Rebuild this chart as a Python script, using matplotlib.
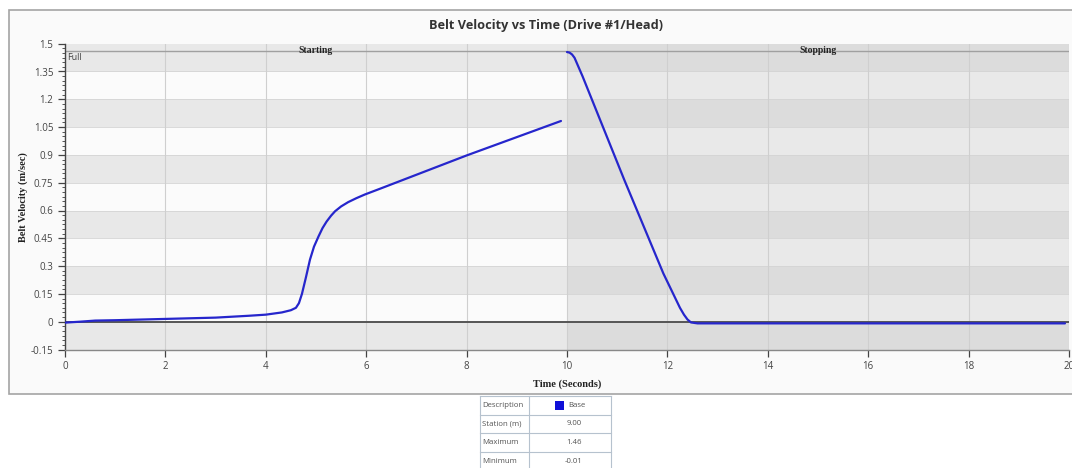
import numpy as np
import matplotlib
matplotlib.use("Agg")
import matplotlib.pyplot as plt
from matplotlib.patches import Rectangle
from matplotlib.ticker import MultipleLocator

W, H = 1072, 468

# Data
start_t = [0.0, 0.3, 0.6, 1.0, 2.0, 3.0, 3.66, 4.0, 4.32, 4.5, 4.6, 4.66, 4.72, 4.8,
           4.88, 4.96, 5.05, 5.13, 5.21, 5.3, 5.38, 5.5, 5.64, 5.8, 5.97, 6.3, 8.0, 9.88]
start_v = [-0.005, 0.0, 0.006, 0.008, 0.015, 0.022, 0.032, 0.038, 0.05, 0.062, 0.075, 0.1,
           0.15, 0.24, 0.335, 0.405, 0.46, 0.505, 0.54, 0.572, 0.596, 0.622, 0.645, 0.666,
           0.686, 0.72, 0.897, 1.083]
stop_t = [10.0, 10.05, 10.1, 10.15, 10.31, 11.14, 11.92, 12.25, 12.33, 12.4, 12.47, 12.6, 19.92]
stop_v = [1.455, 1.452, 1.442, 1.424, 1.324, 0.766, 0.26, 0.075, 0.038, 0.012, -0.004, -0.009, -0.009]

full_speed = 1.46
yticks = [-0.15, 0, 0.15, 0.3, 0.45, 0.6, 0.75, 0.9, 1.05, 1.2, 1.35, 1.5]
ylabels = ["-0.15", "0", "0.15", "0.3", "0.45", "0.6", "0.75", "0.9", "1.05", "1.2", "1.35", "1.5"]
xticks = [0, 2, 4, 6, 8, 10, 12, 14, 16, 18, 20]
phases = ["Starting", "Stopping"]

table_rows = ["Description", "Station (m)", "Maximum", "Minimum"]
table_vals = ["Base", "9.00", "1.46", "-0.01"]

sans = "Open Sans"
serif = "Liberation Serif"
line_col = "#2626cc"

fig = plt.figure(figsize=(W / 100, H / 100), dpi=100)
fig.patch.set_facecolor("white")

# outer panel
panel = Rectangle((9 / W, 1 - 394 / H), 1.0, (394 - 10) / H, transform=fig.transFigure,
                  fc="#fafafa", ec="#a4a4a4", lw=1.2, zorder=-5)
fig.patches.append(panel)

fig.text(546 / W, 1 - 25 / H, "Belt Velocity vs Time (Drive #1/Head)", ha="center",
         va="center", fontsize=9.2, fontweight="bold", family=sans, color="#333333")

ax = fig.add_axes([65 / W, 1 - 349.5 / H, (1069 - 65) / W, (349.5 - 43.7) / H])
ax.set_xlim(0, 20)
ax.set_ylim(-0.15, 1.5)
ax.set_facecolor("#fafafa")

# alternating bands, lighter for starting, darker for stopping
for i in range(len(yticks) - 1):
    lo, hi = yticks[i], yticks[i + 1]
    dark = i % 2 == 0
    ax.axhspan(lo, hi, xmin=0, xmax=0.5, fc="#e8e8e8" if dark else "#fbfbfb", lw=0, zorder=0)
    ax.axhspan(lo, hi, xmin=0.5, xmax=1, fc="#dcdcdc" if dark else "#e9e9e9", lw=0, zorder=0)
    ax.axhline(lo, color="#d4d4d4", lw=0.6, zorder=1)

for x in xticks:
    ax.axvline(x, color="#cfcfcf", lw=0.8, zorder=1)

ax.axhline(0, color="#555555", lw=1.4, zorder=2)
ax.axhline(full_speed, color="#a0a0a0", lw=1.0, zorder=2)
ax.text(0.05, full_speed - 0.008, "Full", ha="left", va="top", fontsize=6.5,
        family=sans, color="#444444", zorder=3)
ax.text(5, full_speed + 0.005, phases[0], ha="center", va="center", fontsize=7,
        fontweight="bold", family=serif, color="#222222", zorder=3)
ax.text(15, full_speed + 0.005, phases[1], ha="center", va="center", fontsize=7,
        fontweight="bold", family=serif, color="#222222", zorder=3)

ax.plot(start_t, start_v, color=line_col, lw=1.6, zorder=4, solid_capstyle="round")
ax.plot(stop_t, stop_v, color=line_col, lw=1.6, zorder=4, solid_capstyle="round")

ax.set_yticks(yticks)
ax.set_yticklabels(ylabels)
ax.yaxis.set_minor_locator(MultipleLocator(0.025))
ax.set_xticks(xticks)
ax.set_xticklabels([str(x) for x in xticks])
ax.tick_params(axis="both", labelsize=7, colors="#444444", length=5, width=0.9)
ax.tick_params(axis="y", which="minor", length=2.5, width=0.7, colors="#555555")
for lab in ax.get_xticklabels() + ax.get_yticklabels():
    lab.set_family(sans)

for s in ["top", "right"]:
    ax.spines[s].set_visible(False)
ax.spines["left"].set_color("#444444")
ax.spines["left"].set_linewidth(1.0)
ax.spines["bottom"].set_color("#888888")
ax.spines["bottom"].set_linewidth(1.0)

ax.set_xlabel("Time (Seconds)", fontsize=7.5, fontweight="bold", family=serif,
              color="#222222", labelpad=5)
ax.set_ylabel("Belt Velocity (m/sec)", fontsize=7.5, fontweight="bold", family=serif,
              color="#222222", labelpad=2)

# info table below the chart
tab = fig.add_axes([480 / W, 0, (611 - 480) / W, (468 - 396) / H])
tab.set_xlim(0, 131)
tab.set_ylim(72, 0)
tab.axis("off")
tab.add_patch(Rectangle((0, 0), 131, 80, fc="white", ec="none", clip_on=False))
row_h = 18.6
col_split = 49
edge = "#b6c2ce"
for i, (name, val) in enumerate(zip(table_rows, table_vals)):
    y0 = i * row_h
    tab.plot([0, 131], [y0, y0], color=edge, lw=0.8, clip_on=False)
    tab.text(2, y0 + row_h / 2, name, ha="left", va="center", fontsize=5.6,
             family=sans, color="#555555")
    if i == 0:
        tab.add_patch(Rectangle((75, y0 + 5), 9, 8.5, fc="#1010d8", ec="none"))
        tab.text(88, y0 + row_h / 2, val, ha="left", va="center", fontsize=5.6,
                 family=sans, color="#555555")
    else:
        tab.text(94, y0 + row_h / 2, val, ha="center", va="center", fontsize=5.6,
                 family=sans, color="#555555")
for x in [0, col_split, 131]:
    tab.plot([x, x], [0, 80], color=edge, lw=0.8, clip_on=False)

fig.savefig("out.png", dpi=100)
